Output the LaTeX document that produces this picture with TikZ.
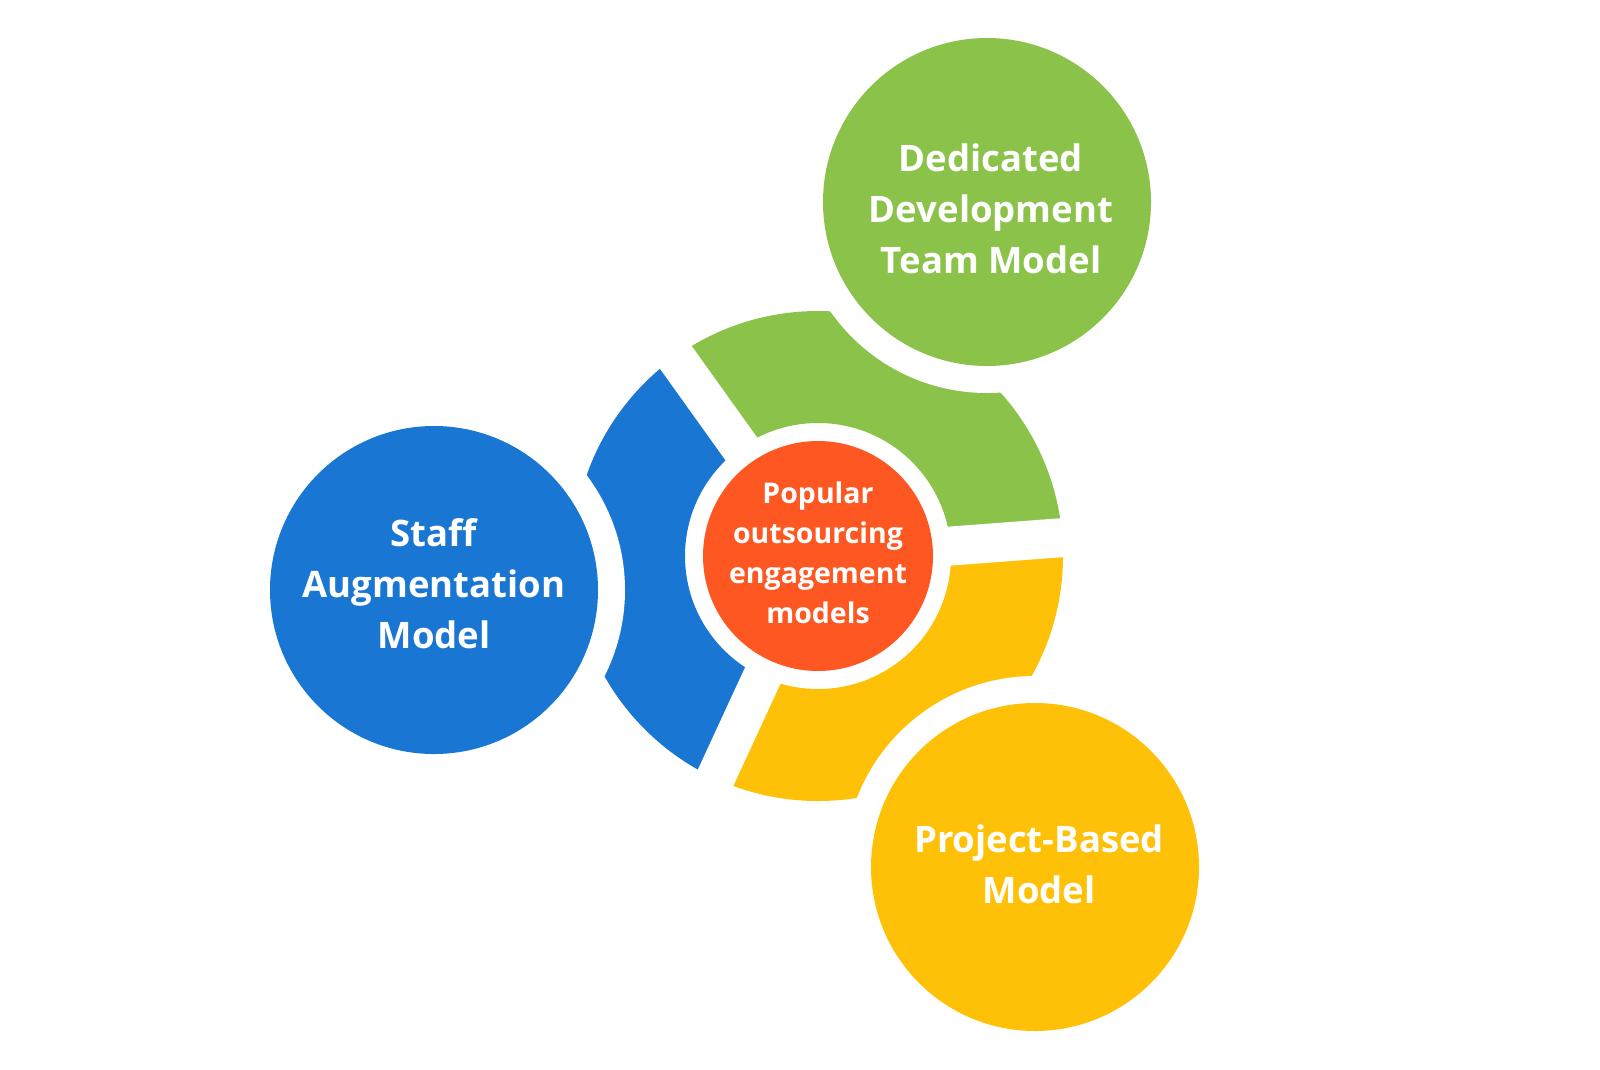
\documentclass[tikz,border=0pt]{standalone}
\usepackage{fontspec}
\setmainfont{Open Sans}
\usetikzlibrary{calc}
\definecolor{cgreen}{HTML}{8BC34A}
\definecolor{cblue}{HTML}{1976D2}
\definecolor{cyellow}{HTML}{FFC107}
\definecolor{corange}{HTML}{FF5722}
\tikzset{
  bigcircle/.style={circle, minimum size=328pt, inner sep=0pt},
  hubcircle/.style={circle, minimum size=230pt, inner sep=0pt, fill=corange},
  bigtext/.style={text=white, align=center, anchor=base, inner sep=0pt,
    font=\fontsize{36.5pt}{51pt}\selectfont\bfseries},
  hubtext/.style={text=white, align=center, anchor=base, inner sep=0pt,
    font=\fontsize{28.5pt}{40pt}\selectfont\bfseries},
  gapline/.style={white, line width=39pt},
  cutdisc/.style={white}
}
\begin{document}
\begin{tikzpicture}[x=1pt,y=-1pt]
\useasboundingbox (0,0) rectangle (1600,1069);
\coordinate (c) at (818,556);
\coordinate (gc) at (987,202);
\coordinate (bc) at (434,590);
\coordinate (yc) at (1035,867);
% ring segments
\foreach \a/\m/\b/\col in {-4.3/-65/-125.6/cgreen, -125.6/-185.4/-245.2/cblue, -245.2/-304.8/-364.3/cyellow}{
  \begin{scope}[shift={(c)}]
    \clip (0,0) -- (\a:500) -- (\m:1000) -- (\b:500) -- cycle;
    \fill[\col, even odd rule] (0,0) circle[radius=245pt] (0,0) circle[radius=133pt];
  \end{scope}
}
% radial gaps
\foreach \a in {-4.3,-125.6,-245.2}{
  \draw[gapline] (c) -- ++(\a:300);
}
% cut-outs around the outer circles
\fill[cutdisc] (gc) circle[radius=191pt];
\fill[cutdisc] (bc) circle[radius=191pt];
\fill[cutdisc] (yc) circle[radius=191pt];
% outer circles
\node[bigcircle, fill=cgreen] (dedicated) at (gc) {};
\node[bigcircle, fill=cblue] (staff) at (bc) {};
\node[bigcircle, fill=cyellow] (project) at (yc) {};
\node[hubcircle] (hub) at (c) {};
% labels (anchored at the baseline of the last line)
\node[bigtext] (dedicatedlabel) at (991,273) {Dedicated\\Development\\Team Model};
\node[bigtext] (stafflabel) at (434,648) {Staff\\Augmentation\\Model};
\node[bigtext] (projectlabel) at (1039,903) {Project-Based\\Model};
\node[hubtext] (hublabel) at (818,623) {Popular\\outsourcing\\engagement\\models};
\end{tikzpicture}
\end{document}
